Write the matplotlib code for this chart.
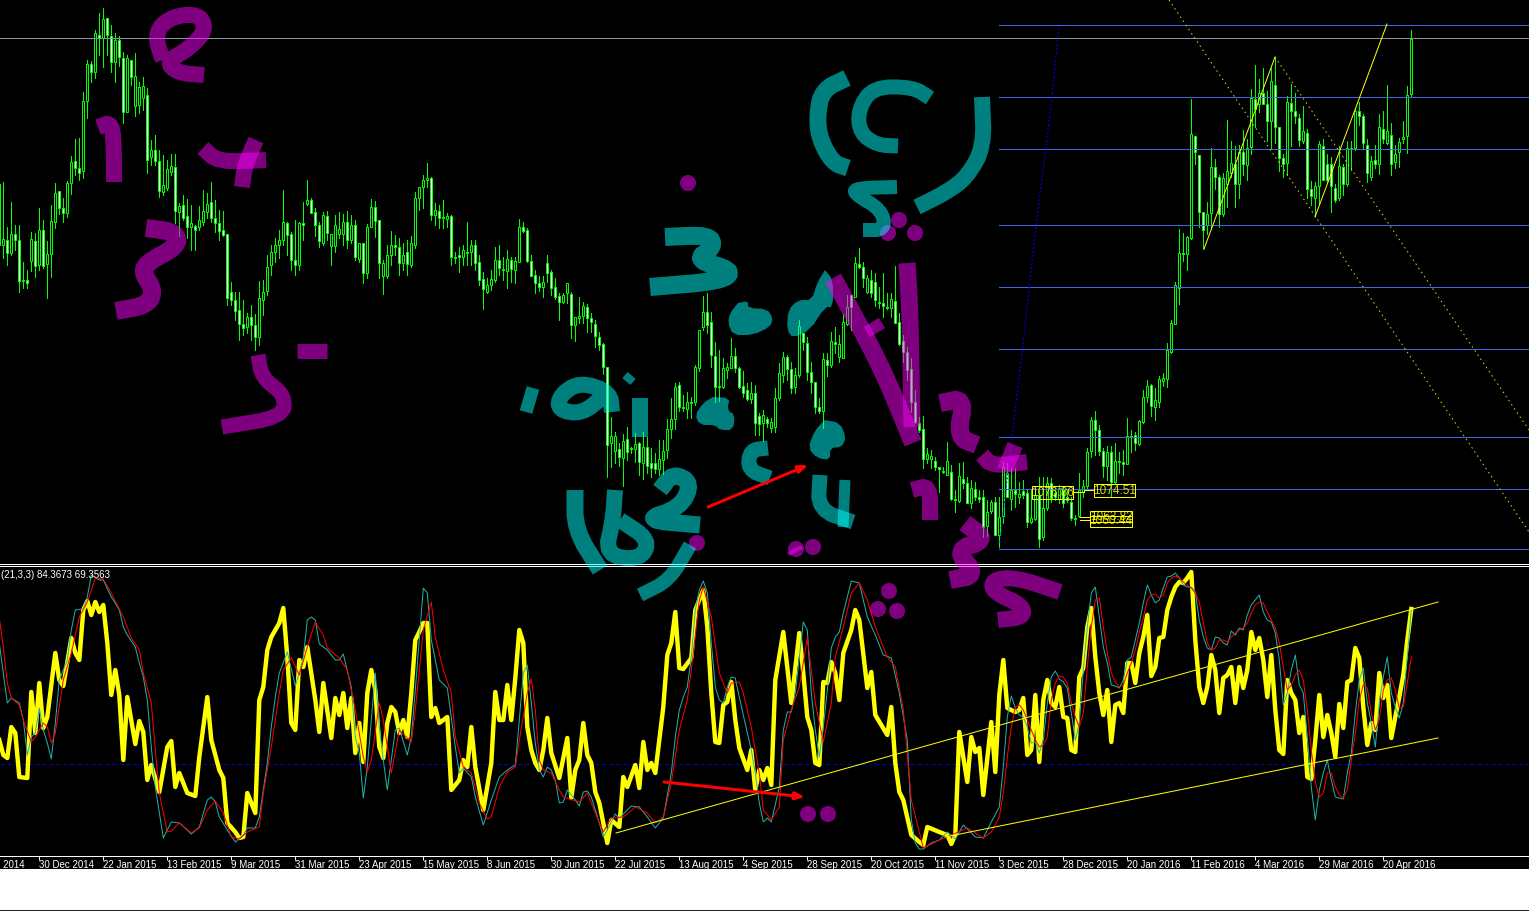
import matplotlib
matplotlib.use("Agg")
import matplotlib.pyplot as plt
from matplotlib.patches import Circle, Rectangle

# candles, values are screen rows read off the terminal (no price scale is shown)
highs = [
    183,182,227,202,225,225,262,270,232,233, 208,220,241,205,183,191,198,181,156,139,
    138,92,60,61,30,13,8,22,25,33, 36,52,55,60,53,82,77,88,140,135,
    150,155,160,154,154,203,195,199,205,225, 206,190,193,182,200,210,211,234,282,292,
    292,300,313,305,314,281,280,255,245,238, 230,190,222,232,220,222,202,180,198,208,
    222,212,211,235,215,212,214,211,215,220, 245,243,224,199,201,220,260,245,231,235,
    238,243,240,236,192,188,175,163,177,203, 205,200,213,215,252,247,245,222,240,240,
    255,272,278,270,247,245,
    257,250,257,257,219,222,228,255,270,276, 276,255,270,278,293,293,283,292,317,297,
    302,304,313,320,332,343,367,417,432,443, 434,427,447,433,442,432,437,448,453,440,
    440,419,398,383,382,395,392,397,365,330, 296,293,312,342,350,358,363,338,348,367,
    371,383,382,385,413,410,417,418,388,363, 352,355,362,368,320,333,337,362,382,398,
    353,353,332,327,335,314,295,295,257,248, 262,275,270,273,287,273,293,293,266,313,
    335,347,358,390,417,416,448,450,457,467, 467,442,465,490,463,462,477,480,482,490,
    490,500,500,497,497,462,463,468,468,482, 480,490,490,488,477,477,477,478,488,485,
    487,490,497,515,473,480,448,417,411,425, 448,446,446,443,452,450,418,430,432,420,
    390,380,384,388,376,373,343,320,282,229, 233,236,99,136,155,212,202,148,159,175,
    173,120,141,146,145,130,139,89,65,79, 68,91,68,57,127,154,96,84,93,114,
    106,129,181,182,141,139,154,157,184,146, 164,141,141,109,102,114,139,156,145,114,
    111,85,123,145,138,121,86,30,
]
lows = [
    245,258,265,255,250,292,288,288,271,277, 270,268,298,277,228,214,222,217,194,175,
    180,178,118,82,78,55,67,55,72,82, 66,123,112,85,116,113,110,173,165,165,
    197,195,190,175,223,236,220,238,250,250, 230,225,218,222,232,240,236,305,305,320,
    340,335,333,340,350,345,315,295,275,262, 258,245,255,270,275,270,240,205,213,236,
    247,245,240,265,252,238,245,248,243,260, 262,283,278,227,237,278,294,278,265,255,
    275,270,275,267,248,210,208,187,220,225, 228,228,227,265,263,272,265,265,265,270,
    285,309,293,290,282,275,
    280,288,282,283,262,232,262,276,293,291, 297,282,295,299,320,303,303,338,341,323,
    323,332,332,347,350,374,477,467,463,466, 486,460,453,462,475,479,473,477,473,475,
    474,458,438,429,411,411,418,418,405,371, 330,333,367,402,401,388,378,368,372,388,
    397,400,403,435,435,441,427,432,432,400, 382,380,393,393,377,350,380,393,413,413,
    428,376,367,353,362,358,325,330,297,268, 287,293,297,306,308,317,309,317,323,345,
    362,380,412,423,432,468,463,468,470,492, 473,475,500,512,502,488,503,508,500,502,
    537,536,513,535,547,523,497,510,507,503, 498,527,523,520,547,540,510,502,500,503,
    507,502,520,525,517,497,489,457,455,455, 477,480,496,484,473,475,464,452,450,445,
    423,402,416,420,407,386,387,353,324,304, 261,270,239,164,227,249,234,229,189,227,
    216,207,177,207,198,175,180,154,127,112, 104,141,148,143,171,177,175,146,123,146,
    143,198,205,216,204,180,182,212,202,200, 195,186,170,150,125,148,182,180,168,174,
    143,144,175,168,167,143,153,96,
]
body_top = [
    184,239,240,234,234,240,280,280,239,241, 230,230,254,221,193,191,208,183,162,161,
    168,101,64,64,33,35,19,18,36,40, 40,58,58,60,76,87,86,95,150,150,
    161,185,169,166,167,206,205,216,223,226, 220,211,204,202,218,223,230,234,292,300,
    310,324,317,317,325,298,292,267,252,245, 240,222,223,234,260,223,223,200,200,212,
    225,215,216,234,225,229,222,222,225,225, 243,243,227,207,207,220,263,255,245,245,
    247,255,252,243,198,187,180,178,178,210, 211,217,216,216,257,255,250,252,245,245,
    262,279,285,279,260,260,
    269,259,260,261,227,227,230,261,275,283, 282,263,272,287,296,295,283,294,317,316,
    306,307,318,324,337,344,367,436,436,449, 441,439,448,444,443,447,447,463,463,459,
    451,429,419,387,385,407,402,402,367,330, 312,312,322,356,386,368,367,356,356,368,
    386,390,393,393,416,415,419,422,398,373, 357,357,369,375,326,333,343,372,382,407,
    359,360,341,342,344,322,307,295,263,264, 267,278,280,282,302,303,307,299,301,322,
    341,352,369,402,423,429,454,456,461,467, 471,461,472,499,476,479,483,488,489,497,
    497,512,502,502,517,467,473,490,490,494, 491,493,518,495,495,508,483,483,493,488,
    490,497,502,518,490,486,452,420,420,430, 451,452,452,461,461,462,436,436,435,421,
    397,386,385,400,379,378,350,323,285,253, 253,237,134,136,155,212,214,167,167,177,
    178,171,163,164,152,152,148,98,99,93, 93,104,81,85,127,158,102,103,111,118,
    131,133,189,186,144,146,164,164,188,166, 167,148,148,111,111,116,145,161,160,127,
    129,131,135,154,142,137,95,39,
]
body_bottom = [
    245,245,253,253,240,281,281,283,261,266, 265,266,264,254,222,208,213,213,183,168,
    173,171,101,72,72,38,38,35,62,62, 57,112,112,77,106,105,98,160,157,161,
    191,192,188,172,211,212,218,227,227,230, 227,222,212,218,223,231,235,298,300,311,
    324,328,327,325,337,337,300,291,265,252, 245,240,235,260,265,265,225,204,213,225,
    241,243,233,246,246,234,234,240,240,257, 259,273,273,227,221,263,276,276,255,247,
    263,263,264,265,245,198,187,180,215,215, 218,218,219,257,258,257,257,253,252,263,
    280,289,292,285,280,268,
    270,271,269,270,262,231,261,276,283,287, 287,273,288,297,302,302,293,325,325,318,
    316,318,322,336,345,367,445,443,451,457, 458,452,449,449,462,463,466,468,469,469,
    460,450,429,419,407,408,409,403,402,368, 327,325,355,387,387,387,370,368,368,387,
    393,399,399,423,424,423,423,428,427,398, 375,369,388,387,375,342,372,382,407,411,
    411,365,365,344,357,358,324,307,297,267, 278,292,293,300,303,306,308,308,323,344,
    352,370,402,422,430,459,459,459,467,469, 472,475,499,500,501,483,503,503,497,499,
    527,526,511,535,535,516,497,499,494,497, 495,522,522,519,539,537,508,498,497,499,
    503,500,518,519,516,492,486,451,430,451, 466,466,482,482,462,464,464,437,443,444,
    422,397,406,407,402,381,379,352,324,288, 254,254,238,152,212,230,225,213,177,214,
    214,184,173,184,184,164,165,147,109,104, 104,121,121,127,158,164,163,111,116,140,
    141,189,196,198,186,180,180,186,200,198, 184,184,149,148,116,143,173,177,164,164,
    139,143,164,162,152,139,136,94,
]
falling = [
    0,0,1,0,1,1,0,1,0,1, 0,1,0,0,0,1,1,0,0,1, 1,0,0,1,0,1,0,1,1,0, 1,1,0,1,0,0,0,1,0,1,
    1,0,0,0,1,0,1,1,0,1, 0,0,0,1,1,1,1,1,1,1, 1,1,0,1,1,0,0,0,0,0, 0,0,1,1,1,0,1,0,1,1,
    1,0,1,0,0,0,0,1,0,1, 0,1,0,0,1,1,0,0,0,1, 1,0,1,0,0,0,0,0,1,0, 1,1,0,1,1,1,0,1,0,1,
    1,1,0,0,0,1,
    0,0,1,0,0,1,1,1,1,1, 0,1,1,1,1,0,0,1,0,0, 0,1,1,1,1,1,1,0,0,1, 0,1,1,0,1,0,1,1,1,0,
    0,0,0,0,1,1,0,1,0,0, 0,1,1,1,1,0,0,0,1,1, 1,1,0,1,1,0,1,0,0,0, 0,1,1,0,0,1,1,1,1,1,
    0,1,0,1,0,0,0,1,0,1, 1,0,1,1,1,1,1,0,1,1, 1,1,1,1,1,1,0,0,1,1, 1,0,1,1,0,1,1,0,1,1,
    1,0,0,1,0,0,1,0,1,0, 1,1,0,0,1,0,0,1,1,0, 1,1,1,1,0,0,0,0,1,1, 1,0,1,0,1,1,0,1,1,0,
    0,0,1,0,0,0,0,0,0,0, 1,0,0,1,1,1,0,0,1,1, 0,0,0,1,0,1,0,0,1,0, 1,1,0,1,1,1,0,1,1,1,
    0,1,1,0,0,1,1,1,1,0, 1,0,1,0,1,1,1,0,1,0, 1,0,1,0,0,0,0,0,
]

# stochastic lines, turning points as (bar number, screen row)
yellow_bars = [
    0,1,2,3,4,5,7,8,9,10,11,12,14,15,16,18,19,20,21,22,23,24,25,26,27,28,29,30,31,32,34,35,36,37,38,40,42,43,44,45,47,49,
    50,52,53,55,56,57,59,60,61,62,64,65,66,67,68,70,71,72,73,74,75,76,77,79,80,81,83,84,85,86,87,88,89,90,91,92,93,94,95,
    96,97,98,99,100,101,102,103,104,105,106,107,108,109,110,112,113,115,116,117,118,119,121,123,124,125,
    126,127,128,129,130,131,132,133,134,135,136,137,138,140,142,143,144,145,146,147,148,149,150,152,153,155,156,157,159,
    160,161,162,163,164,166,167,168,169,170,171,173,174,176,177,178,179,180,181,182,183,184,185,187,188,189,190,191,192,
    193,194,196,198,200,201,202,203,204,205,206,207,208,209,210,211,213,214,215,217,218,219,222,223,224,225,226,228,230,
    231,232,235,237,238,239,240,242,243,244,245,246,248,249,250,
    251,252,254,255,256,257,258,259,260,261,262,263,264,265,266,267,268,269,270,271,272,273,274,275,276,277,278,279,280,
    281,282,283,284,285,286,287,288,289,290,291,292,293,294,295,296,297,298,299,300,301,302,303,304,305,306,307,308,309,
    310,311,312,313,314,315,316,317,318,319,320,321,322,323,324,325,326,327,328,329,330,331,332,333,334,335,336,337,338,
    339,340,341,342,343,344,345,346,347,348,349,350,351,352,353,
]
yellow_rows = [
    740,755,758,727,733,777,778,692,733,683,728,717,653,680,686,638,653,660,610,601,615,602,612,605,643,695,670,695,760,697,744,721,732,780,765,792,747,741,787,773,793,796,
    757,697,740,770,778,823,832,838,837,793,813,700,687,650,637,623,608,657,723,730,660,667,647,700,732,683,738,698,715,693,728,698,753,723,762,693,670,690,747,
    758,723,707,712,733,720,737,693,640,632,623,623,717,708,723,717,790,780,760,767,727,767,810,763,692,720,
    720,685,720,678,630,643,727,750,763,770,750,718,753,778,738,798,770,760,723,755,763,792,803,843,820,827,777,787,765,
    788,742,770,763,773,707,655,643,612,668,669,658,610,590,627,693,742,743,705,702,682,720,748,770,750,790,770,780,768,
    785,680,632,703,633,673,717,730,763,765,682,683,662,673,700,653,630,610,620,688,672,715,735,707,763,792,800,835,842,
    845,827,832,835,844,835,732,782,737,752,748,795,722,772,695,
    660,708,712,710,698,755,750,695,762,700,680,703,707,687,717,718,750,752,677,668,627,608,657,693,715,690,742,705,703,
    713,663,663,683,653,637,615,676,667,638,637,610,597,587,582,583,578,572,640,687,703,687,655,670,713,678,675,667,703,
    667,688,670,632,650,638,660,697,655,710,750,754,680,693,700,733,717,777,779,740,695,737,715,733,757,704,728,682,680,
    648,658,707,745,723,730,673,698,685,738,717,697,675,640,609,
]
teal_bars = [
    0,2,3,5,6,7,8,9,10,11,12,13,14,15,17,18,19,21,22,23,25,26,28,30,31,32,34,35,36,37,38,39,41,43,45,47,48,50,52,53,54,55,57,59,
    61,62,64,65,66,67,68,69,70,72,74,75,76,77,78,79,80,82,84,85,86,88,89,90,91,92,94,95,96,97,99,100,102,103,104,106,107,108,
    110,112,114,115,116,118,119,121,123,125,
    127,129,130,131,132,133,134,135,136,137,138,139,140,141,142,144,145,146,147,148,150,151,152,154,155,157,158,160,162,164,
    166,168,169,170,171,172,173,174,175,176,177,178,179,180,181,182,183,184,185,187,188,189,190,191,192,193,195,196,197,198,
    199,200,201,202,203,204,205,206,207,208,209,210,211,213,214,215,216,217,219,221,223,225,227,228,229,230,231,233,235,237,
    239,241,244,246,248,250,
    251,252,253,254,255,256,257,258,259,260,261,262,263,264,265,266,267,268,269,270,271,272,273,274,275,276,277,278,279,280,
    281,282,283,284,285,286,287,288,289,290,291,292,293,294,295,296,297,298,299,300,301,302,303,304,305,306,307,308,309,310,
    311,312,313,314,315,316,317,318,319,320,321,322,323,324,325,326,327,328,329,330,331,332,333,334,335,336,337,338,339,340,
    341,342,343,344,345,346,347,348,349,350,351,352,353,
]
teal_rows = [
    643,703,698,703,720,755,737,733,708,730,743,759,723,680,660,630,610,609,597,575,580,580,597,610,627,635,647,663,677,700,747,787,838,822,823,830,834,827,800,797,802,817,830,842,
    835,828,828,817,790,763,727,697,673,652,686,673,657,620,617,620,644,650,660,660,654,687,737,753,798,767,673,727,760,790,730,728,755,737,690,588,593,640,
    680,688,747,773,768,777,797,825,800,777,
    770,765,720,673,665,703,743,770,777,767,770,780,803,802,790,800,806,792,791,797,823,837,830,814,818,810,806,807,817,828,
    818,773,737,710,697,687,657,610,590,581,593,643,687,700,703,687,677,678,697,733,750,773,803,822,818,822,787,730,712,712,
    693,657,622,630,693,730,757,727,690,648,637,632,613,581,582,583,600,617,635,655,658,693,740,820,843,849,849,843,840,832,
    839,825,837,838,822,807,
    767,717,696,708,715,717,727,743,742,753,740,703,677,671,679,682,688,713,740,723,670,627,593,587,617,647,663,685,686,688,
    680,660,657,640,623,603,585,595,603,600,588,577,576,573,578,585,587,587,592,620,637,648,650,637,638,643,645,631,635,628,
    630,615,605,600,595,612,620,622,633,660,705,693,670,655,685,693,737,787,820,790,773,760,780,797,798,799,773,753,713,680,
    668,703,723,747,703,677,657,693,707,718,703,657,610,
]
red_bars = [
    0,1,2,3,5,6,8,9,11,12,13,14,16,18,20,22,24,26,28,31,33,35,36,38,39,40,42,43,45,48,50,52,54,56,58,60,62,65,66,68,70,71,73,75,
    77,79,81,82,85,87,89,91,92,93,95,96,98,100,103,104,106,108,109,111,113,114,116,118,120,122,123,125,
    127,129,130,132,133,134,135,136,138,140,141,145,147,149,151,153,156,159,162,164,166,168,170,172,173,175,176,178,180,182,
    183,185,186,188,190,191,193,195,196,198,200,202,204,206,208,209,211,213,215,217,219,222,224,226,228,231,235,238,242,246,
    248,250,
    251,252,253,254,255,256,257,258,259,260,261,262,263,264,265,266,267,268,269,270,271,272,273,274,275,276,277,278,279,280,
    281,282,283,284,285,286,287,288,289,290,291,292,293,294,295,296,297,298,299,300,301,302,303,304,305,306,307,308,309,310,
    311,312,313,314,315,316,317,318,319,320,321,322,323,324,325,326,327,328,329,330,331,332,333,334,335,336,337,338,339,340,
    341,342,343,344,345,346,347,348,349,350,351,352,353,
]
red_rows = [
    618,647,683,698,705,720,742,737,723,727,743,733,680,653,617,602,578,579,593,617,638,650,673,703,750,793,832,831,823,833,828,810,801,813,837,839,832,827,793,747,693,670,658,675,
    647,622,635,648,658,670,710,757,772,760,703,720,773,730,742,710,630,602,637,670,693,737,767,773,803,819,817,787,
    772,767,740,693,679,710,760,770,773,790,797,802,793,813,832,818,817,807,813,823,817,783,730,700,670,600,587,617,673,693,
    683,682,693,727,773,810,820,807,740,710,687,638,703,742,703,657,627,593,583,600,627,657,667,710,800,848,840,835,828,838,
    832,817,
    793,757,727,707,705,710,720,730,740,747,745,737,700,683,676,677,683,703,717,727,713,667,627,600,598,627,653,673,682,687,
    685,673,663,650,632,618,600,595,594,598,595,583,578,576,578,582,585,588,593,602,623,643,650,648,640,640,642,637,633,630,
    628,623,613,605,602,603,612,620,628,643,667,690,685,675,670,680,710,750,782,797,793,773,773,787,795,798,790,760,733,700,
    685,688,713,730,720,690,680,678,690,708,707,683,657,
]

date_ticks = [
    "8 Dec 2014", "30 Dec 2014", "22 Jan 2015", "13 Feb 2015", "9 Mar 2015", "31 Mar 2015", "23 Apr 2015", "15 May 2015",
    "8 Jun 2015", "30 Jun 2015", "22 Jul 2015", "13 Aug 2015", "4 Sep 2015", "28 Sep 2015", "20 Oct 2015", "11 Nov 2015",
    "3 Dec 2015", "28 Dec 2015", "20 Jan 2016", "11 Feb 2016", "4 Mar 2016", "29 Mar 2016", "20 Apr 2016",
]
fibo_rows = [25, 97, 149, 225, 287, 349, 437, 489, 549]

W, H = 1529, 911
PX = 0.72  # one screen pixel in points at dpi 100
GREEN = "#00ff00"
YELLOW = "#ffff00"

plt.rcParams["font.family"] = ["Liberation Sans", "DejaVu Sans"]
fig = plt.figure(figsize=(W / 100, H / 100), dpi=100, facecolor="black")


def panel(top, bottom):
    ax = fig.add_axes([0, 1 - bottom / H, 1, (bottom - top) / H], facecolor="black")
    ax.set_xlim(0.175, 382.425)
    ax.set_ylim(bottom, top)
    return ax


def smooth(pts, rounds=2):
    # corner cutting so the hand strokes do not look like polygons
    for _ in range(rounds):
        out = [pts[0]]
        for a, b in zip(pts[:-1], pts[1:]):
            out.append((0.75 * a[0] + 0.25 * b[0], 0.75 * a[1] + 0.25 * b[1]))
            out.append((0.25 * a[0] + 0.75 * b[0], 0.25 * a[1] + 0.75 * b[1]))
        out.append(pts[-1])
        pts = out
    return pts


bars = list(range(len(highs)))
ax = panel(0, 563)
ax.set_axis_off()
wicks = ax.vlines(bars, highs, lows, color=GREEN, lw=PX, zorder=2)
wicks.set_snap(True)
wicks.set_antialiased(False)
ax.bar(bars, [b - t for t, b in zip(body_top, body_bottom)], bottom=body_top, width=0.5,
       color=["white" if f else "black" for f in falling], edgecolor=GREEN, lw=PX, zorder=3)

osc = panel(567, 856)
for s in ["top", "left", "right"]:
    osc.spines[s].set_visible(False)
osc.spines["bottom"].set_color("white")
osc.spines["bottom"].set_linewidth(PX)
osc.axhline(763.5, color="#0000d0", lw=PX, ls=(0, (4, 3)), zorder=1)
osc.plot(yellow_bars, yellow_rows, color=YELLOW, lw=4.4 * PX, zorder=2, solid_joinstyle="round")
osc.plot(teal_bars, teal_rows, color="#20b2aa", lw=PX, zorder=3)
osc.plot(red_bars, red_rows, color="red", lw=PX, zorder=4)
osc.set_yticks([])
osc.set_xticks([10 + 16 * k for k in range(len(date_ticks) - 1)])
osc.set_xticklabels([])
osc.tick_params(axis="x", length=4 * PX, width=PX, color="white")
for k, label in enumerate(date_ticks):
    osc.text(-6 + 16 * k, 868, label, ha="left", va="baseline", fontsize=7, color="white", clip_on=False)
osc.text(0.5, 574.5, "(21,3,3) 84.3673 69.3563", color="white", fontsize=7, va="center")

# everything drawn by hand on the terminal goes on a screen-pixel layer
ink = fig.add_axes([0, 0, 1, 1], zorder=3)
ink.set_xlim(0, W)
ink.set_ylim(H, 0)
ink.set_axis_off()
ink.patch.set_visible(False)

ink.plot([0, W], [38, 38], color="#8a90a8", lw=PX, zorder=1)
for row in fibo_rows:
    ink.plot([999, W], [row, row], color="#4169e1", lw=PX, zorder=1)
ink.plot([0, W], [563.5, 563.5], color="white", lw=PX)
ink.plot([0, W], [566, 566], color="white", lw=PX)

ink.plot([1000, 1012, 1023, 1036, 1045, 1052, 1059], [543, 436, 345, 225, 154, 96, 26],
         color="#0000ff", lw=PX, ls=(0, (2, 2)))
ink.plot([1169, 1529], [0, 532], color="#c8dc20", lw=PX, ls=(0, (1.5, 3.5)))
ink.plot([1275, 1529], [57, 430], color="#c8dc20", lw=PX, ls=(0, (1.5, 3.5)))
ink.plot([1204, 1275], [249, 57], color=YELLOW, lw=PX)
ink.plot([1315, 1387], [217, 24], color=YELLOW, lw=PX)
ink.plot([616, 1438], [833, 602], color=YELLOW, lw=PX)
ink.plot([945, 1438], [837, 738], color=YELLOW, lw=PX)

for x, row, w, h, txt in [(1032, 486, 41, 13, "1076.86"), (1094, 484, 41, 13, "1074.51"),
                          (1090, 511, 42, 11, "1063.82"), (1090, 516, 42, 11, "1060.44")]:
    ink.add_patch(Rectangle((x, row), w, h, fill=False, ec=YELLOW, lw=PX))
    ink.text(x + w / 2, row + h / 2, txt, color=YELLOW, fontsize=8.5, ha="center", va="center", alpha=0.85)
ink.plot([1073, 1084, 1084, 1094], [492, 492, 490, 490], color=YELLOW, lw=PX)
ink.plot([1080, 1090], [517, 517], color=YELLOW, lw=PX)
ink.plot([1080, 1090], [520, 520], color=YELLOW, lw=PX)

for start, end in [((708, 507), (808, 465)), ((664, 782), (805, 797))]:
    ink.annotate("", xy=end, xytext=start,
                 arrowprops=dict(arrowstyle="-|>,head_length=0.55,head_width=0.22", color="red", lw=3 * PX,
                                 shrinkA=0, shrinkB=0))

purple_strokes = [
    (16, [(204, 75), (178, 73), (166, 62), (190, 48), (206, 30), (200, 15), (178, 15), (160, 25), (156, 40), (163, 60)]),
    (16, [(98, 127), (112, 122), (114, 150), (114, 182)]),
    (16, [(203, 148), (218, 162), (266, 160)]),
    (16, [(256, 140), (245, 165), (242, 187)]),
    (18, [(146, 228), (176, 232), (178, 246), (148, 262), (142, 272), (154, 290), (148, 305), (116, 311)]),
    (15, [(297, 351), (327, 351)]),
    (15, [(258, 355), (262, 378), (285, 395), (283, 417), (222, 427)]),
    (17, [(907, 263), (910, 310), (912, 427)]),
    (18, [(833, 278), (880, 363), (913, 443)]),
    (12, [(867, 332), (882, 323)]),
    (18, [(940, 403), (965, 398), (957, 437), (977, 445)]),
    (16, [(982, 455), (992, 466), (1027, 462)]),
    (16, [(1015, 445), (1005, 470)]),
    (16, [(912, 490), (930, 485), (930, 520)]),
    (18, [(965, 523), (987, 540), (955, 550), (977, 575), (950, 580)]),
    (16, [(1060, 592), (1015, 577), (992, 580), (993, 592), (1022, 605), (1024, 617), (998, 620)]),
    (4, [(788, 554), (802, 547)]),
]
teal_strokes = [
    (17, [(847, 78), (822, 90), (817, 117), (820, 140), (833, 163), (848, 168)]),
    (15, [(930, 98), (913, 87), (873, 87), (858, 110), (860, 133), (877, 145), (898, 146)]),
    (16, [(982, 97), (984, 147), (967, 177), (947, 192), (917, 207)]),
    (14, [(897, 187), (858, 188), (853, 193), (882, 210), (885, 230), (863, 230)]),
    (18, [(665, 237), (709, 235), (714, 247), (695, 260), (733, 270), (722, 281), (650, 287)]),
    (13, [(533, 388), (526, 412)]),
    (16, [(612, 412), (610, 392), (580, 382), (560, 395), (558, 410), (582, 414), (605, 395)]),
    (8, [(625, 375), (633, 382)]),
    (16, [(640, 398), (640, 437)]),
    (15, [(768, 448), (750, 450), (748, 470), (770, 478)]),
    (15, [(820, 475), (818, 510), (853, 522)]),
    (11, [(845, 480), (843, 527)]),
    (17, [(660, 490), (673, 473), (692, 483), (680, 508), (643, 520), (700, 525)]),
    (17, [(575, 490), (575, 530), (600, 570)]),
    (16, [(615, 490), (613, 520), (605, 555), (640, 560), (650, 540), (620, 520)]),
    (14, [(690, 545), (670, 580), (640, 595)]),
]
# fat shapes are easier as outlines than as strokes
teal_blobs = [
    [(738, 303), (748, 301), (748, 308), (767, 309), (773, 318), (770, 327), (753, 335), (733, 335), (728, 323), (730, 313), (738, 303)],
    [(825, 270), (833, 280), (833, 307), (825, 307), (810, 330), (793, 338), (787, 330), (788, 310), (798, 300), (812, 300), (817, 283), (825, 270)],
    [(713, 397), (730, 398), (727, 410), (735, 415), (733, 430), (720, 430), (715, 425), (700, 425), (695, 415), (703, 403), (713, 397)],
    [(825, 420), (840, 423), (846, 437), (842, 447), (830, 448), (830, 460), (817, 458), (808, 448), (815, 430), (825, 420)],
]
purple_dots = [(688, 183), (899, 220), (888, 233), (915, 233), (697, 543), (796, 549), (813, 547),
               (889, 591), (878, 609), (897, 611), (808, 814), (828, 814)]

for color, strokes in [("#ff00ff", purple_strokes), ("#00ffff", teal_strokes)]:
    for width, pts in strokes:
        pts = smooth(pts)
        ink.plot([p[0] for p in pts], [p[1] for p in pts], color=color, alpha=0.5, lw=width * PX,
                 solid_capstyle="butt", solid_joinstyle="round")
for blob in teal_blobs:
    pts = smooth(blob, 1)
    ink.fill([p[0] for p in pts], [p[1] for p in pts], color="#00ffff", alpha=0.5, lw=0)
for x, y in purple_dots:
    ink.add_patch(Circle((x, y), 8, fc="#ff00ff", ec="none", alpha=0.5))

# the terminal window was cut off here
fig.add_artist(Rectangle((0, 0), 1, (H - 869) / H, transform=fig.transFigure, fc="white", ec="none", zorder=5))
fig.add_artist(Rectangle((0, 0), 1, 1 / H, transform=fig.transFigure, fc="#222222", ec="none", zorder=6))

fig.savefig("out.png", dpi=100, facecolor="black")
